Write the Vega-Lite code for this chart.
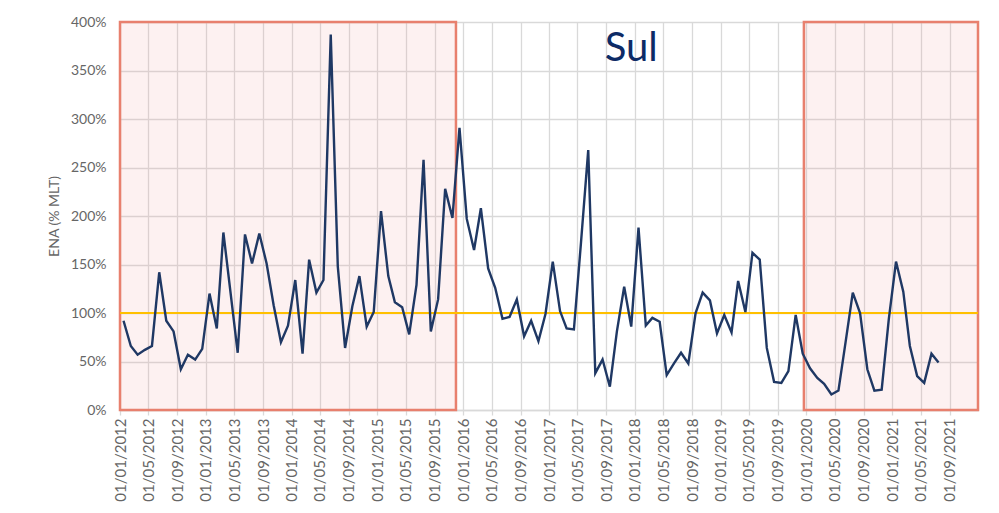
{
  "$schema": "https://vega.github.io/schema/vega-lite/v6.json",
  "width": 858,
  "height": 388,
  "autosize": {"type": "none"},
  "padding": {"left": 120, "top": 22, "right": 21, "bottom": 103},
  "background": "white",
  "config": {"view": {"stroke": null}, "font": "Lato"},
  "datasets": {
    "zones": [
      {"start": "2012-01-01", "end": "2015-12-01", "lo": 0, "hi": 400},
      {"start": "2019-12-21", "end": "2021-12-31", "lo": 0, "hi": 400}
    ],
    "ref": [{"level": 100}],
    "label": [{"date": "2017-12-16", "value": 372, "text": "Sul"}],
    "series": [
      {"date": "2012-01-16", "ena": 92}, {"date": "2012-02-16", "ena": 66}, {"date": "2012-03-16", "ena": 57}, {"date": "2012-04-16", "ena": 62},
      {"date": "2012-05-16", "ena": 66}, {"date": "2012-06-16", "ena": 142}, {"date": "2012-07-16", "ena": 92}, {"date": "2012-08-16", "ena": 81},
      {"date": "2012-09-16", "ena": 42}, {"date": "2012-10-16", "ena": 57}, {"date": "2012-11-16", "ena": 52}, {"date": "2012-12-16", "ena": 63},
      {"date": "2013-01-16", "ena": 120}, {"date": "2013-02-16", "ena": 84}, {"date": "2013-03-16", "ena": 183}, {"date": "2013-04-16", "ena": 120},
      {"date": "2013-05-16", "ena": 59}, {"date": "2013-06-16", "ena": 181}, {"date": "2013-07-16", "ena": 151}, {"date": "2013-08-16", "ena": 182},
      {"date": "2013-09-16", "ena": 151}, {"date": "2013-10-16", "ena": 108}, {"date": "2013-11-16", "ena": 70}, {"date": "2013-12-16", "ena": 87},
      {"date": "2014-01-16", "ena": 134}, {"date": "2014-02-16", "ena": 58}, {"date": "2014-03-16", "ena": 155}, {"date": "2014-04-16", "ena": 121},
      {"date": "2014-05-16", "ena": 134}, {"date": "2014-06-16", "ena": 387}, {"date": "2014-07-16", "ena": 148}, {"date": "2014-08-16", "ena": 64},
      {"date": "2014-09-16", "ena": 107}, {"date": "2014-10-16", "ena": 138}, {"date": "2014-11-16", "ena": 86}, {"date": "2014-12-16", "ena": 101},
      {"date": "2015-01-16", "ena": 205}, {"date": "2015-02-16", "ena": 138}, {"date": "2015-03-16", "ena": 111}, {"date": "2015-04-16", "ena": 106},
      {"date": "2015-05-16", "ena": 78}, {"date": "2015-06-16", "ena": 129}, {"date": "2015-07-16", "ena": 258}, {"date": "2015-08-16", "ena": 81},
      {"date": "2015-09-16", "ena": 114}, {"date": "2015-10-16", "ena": 228}, {"date": "2015-11-16", "ena": 198}, {"date": "2015-12-16", "ena": 291},
      {"date": "2016-01-16", "ena": 197}, {"date": "2016-02-16", "ena": 165}, {"date": "2016-03-16", "ena": 208}, {"date": "2016-04-16", "ena": 146},
      {"date": "2016-05-16", "ena": 126}, {"date": "2016-06-16", "ena": 94}, {"date": "2016-07-16", "ena": 96}, {"date": "2016-08-16", "ena": 114},
      {"date": "2016-09-16", "ena": 76}, {"date": "2016-10-16", "ena": 92}, {"date": "2016-11-16", "ena": 71}, {"date": "2016-12-16", "ena": 99},
      {"date": "2017-01-16", "ena": 153}, {"date": "2017-02-16", "ena": 102}, {"date": "2017-03-16", "ena": 84}, {"date": "2017-04-16", "ena": 83},
      {"date": "2017-05-16", "ena": 172}, {"date": "2017-06-16", "ena": 268}, {"date": "2017-07-16", "ena": 38}, {"date": "2017-08-16", "ena": 52},
      {"date": "2017-09-16", "ena": 24}, {"date": "2017-10-16", "ena": 81}, {"date": "2017-11-16", "ena": 127}, {"date": "2017-12-16", "ena": 86},
      {"date": "2018-01-16", "ena": 188}, {"date": "2018-02-16", "ena": 87}, {"date": "2018-03-16", "ena": 95}, {"date": "2018-04-16", "ena": 91},
      {"date": "2018-05-16", "ena": 36}, {"date": "2018-06-16", "ena": 48}, {"date": "2018-07-16", "ena": 59}, {"date": "2018-08-16", "ena": 48},
      {"date": "2018-09-16", "ena": 100}, {"date": "2018-10-16", "ena": 121}, {"date": "2018-11-16", "ena": 113}, {"date": "2018-12-16", "ena": 79},
      {"date": "2019-01-16", "ena": 98}, {"date": "2019-02-16", "ena": 80}, {"date": "2019-03-16", "ena": 133}, {"date": "2019-04-16", "ena": 101},
      {"date": "2019-05-16", "ena": 162}, {"date": "2019-06-16", "ena": 155}, {"date": "2019-07-16", "ena": 64}, {"date": "2019-08-16", "ena": 29},
      {"date": "2019-09-16", "ena": 28}, {"date": "2019-10-16", "ena": 40}, {"date": "2019-11-16", "ena": 98}, {"date": "2019-12-16", "ena": 58},
      {"date": "2020-01-16", "ena": 43}, {"date": "2020-02-16", "ena": 33}, {"date": "2020-03-16", "ena": 27}, {"date": "2020-04-16", "ena": 16},
      {"date": "2020-05-16", "ena": 20}, {"date": "2020-06-16", "ena": 71}, {"date": "2020-07-16", "ena": 121}, {"date": "2020-08-16", "ena": 100},
      {"date": "2020-09-16", "ena": 42}, {"date": "2020-10-16", "ena": 20}, {"date": "2020-11-16", "ena": 21}, {"date": "2020-12-16", "ena": 93},
      {"date": "2021-01-16", "ena": 153}, {"date": "2021-02-16", "ena": 122}, {"date": "2021-03-16", "ena": 66}, {"date": "2021-04-16", "ena": 35},
      {"date": "2021-05-16", "ena": 28}, {"date": "2021-06-16", "ena": 58}, {"date": "2021-07-16", "ena": 49}
    ]
  },
  "layer": [
    {
      "data": {"name": "series"},
      "mark": {"type": "line", "opacity": 0},
      "encoding": {
        "x": {
          "field": "date", "type": "temporal",
          "scale": {"type": "utc", "domain": [{"year": 2012, "month": 1, "date": 1, "utc": true}, {"year": 2021, "month": 12, "date": 31, "utc": true}]},
          "axis": {
            "title": null,
            "labelExpr": "utcFormat(datum.value, '%d/%m/%Y')",
            "tickCount": {"interval": "month", "step": 4},
            "labelAngle": -90, "labelFontSize": 15, "labelColor": "#666666", "labelFont": "Lato",
            "labelPadding": 3, "labelOverlap": false, "labelFlush": false,
            "tickSize": 5, "tickColor": "#d9d9d9", "tickWidth": 1.3,
            "domainColor": "#d9d9d9", "domainWidth": 1.3,
            "grid": true, "gridColor": "#d9d9d9", "gridWidth": 1.3
          }
        },
        "y": {
          "field": "ena", "type": "quantitative",
          "scale": {"domain": [0, 400], "nice": false},
          "axis": {
            "title": "ENA (% MLT)", "titleFontSize": 14, "titleColor": "#666666", "titleFont": "Lato", "titleFontWeight": "normal",
            "titleX": -66, "titleY": 194, "titleAngle": -90, "titleBaseline": "middle", "titleAlign": "center",
            "values": [0, 50, 100, 150, 200, 250, 300, 350, 400],
            "labelExpr": "datum.value + '%'", "labelFontSize": 14, "labelColor": "#666666", "labelFont": "Lato",
            "labelPadding": 14, "ticks": false, "domain": false,
            "grid": true, "gridColor": "#d9d9d9", "gridWidth": 1.3
          }
        }
      }
    },
    {
      "data": {"name": "zones"},
      "mark": {"type": "rect", "fill": "#f2a0a0", "fillOpacity": 0.15, "stroke": "#e8806e", "strokeWidth": 2.5},
      "encoding": {
        "x": {"field": "start", "type": "temporal"},
        "x2": {"field": "end"},
        "y": {"field": "lo", "type": "quantitative"},
        "y2": {"field": "hi"}
      }
    },
    {
      "data": {"name": "ref"},
      "mark": {"type": "rule", "color": "#ffc000", "strokeWidth": 2.2},
      "encoding": {"y": {"field": "level", "type": "quantitative"}}
    },
    {
      "data": {"name": "series"},
      "mark": {"type": "line", "color": "#1f3864", "strokeWidth": 2.4},
      "encoding": {
        "x": {"field": "date", "type": "temporal"},
        "y": {"field": "ena", "type": "quantitative"}
      }
    },
    {
      "data": {"name": "label"},
      "mark": {"type": "text", "fontSize": 40, "color": "#0d2b66", "font": "Lato", "align": "center", "baseline": "middle"},
      "encoding": {
        "x": {"field": "date", "type": "temporal"},
        "y": {"field": "value", "type": "quantitative"},
        "text": {"field": "text"}
      }
    }
  ]
}
